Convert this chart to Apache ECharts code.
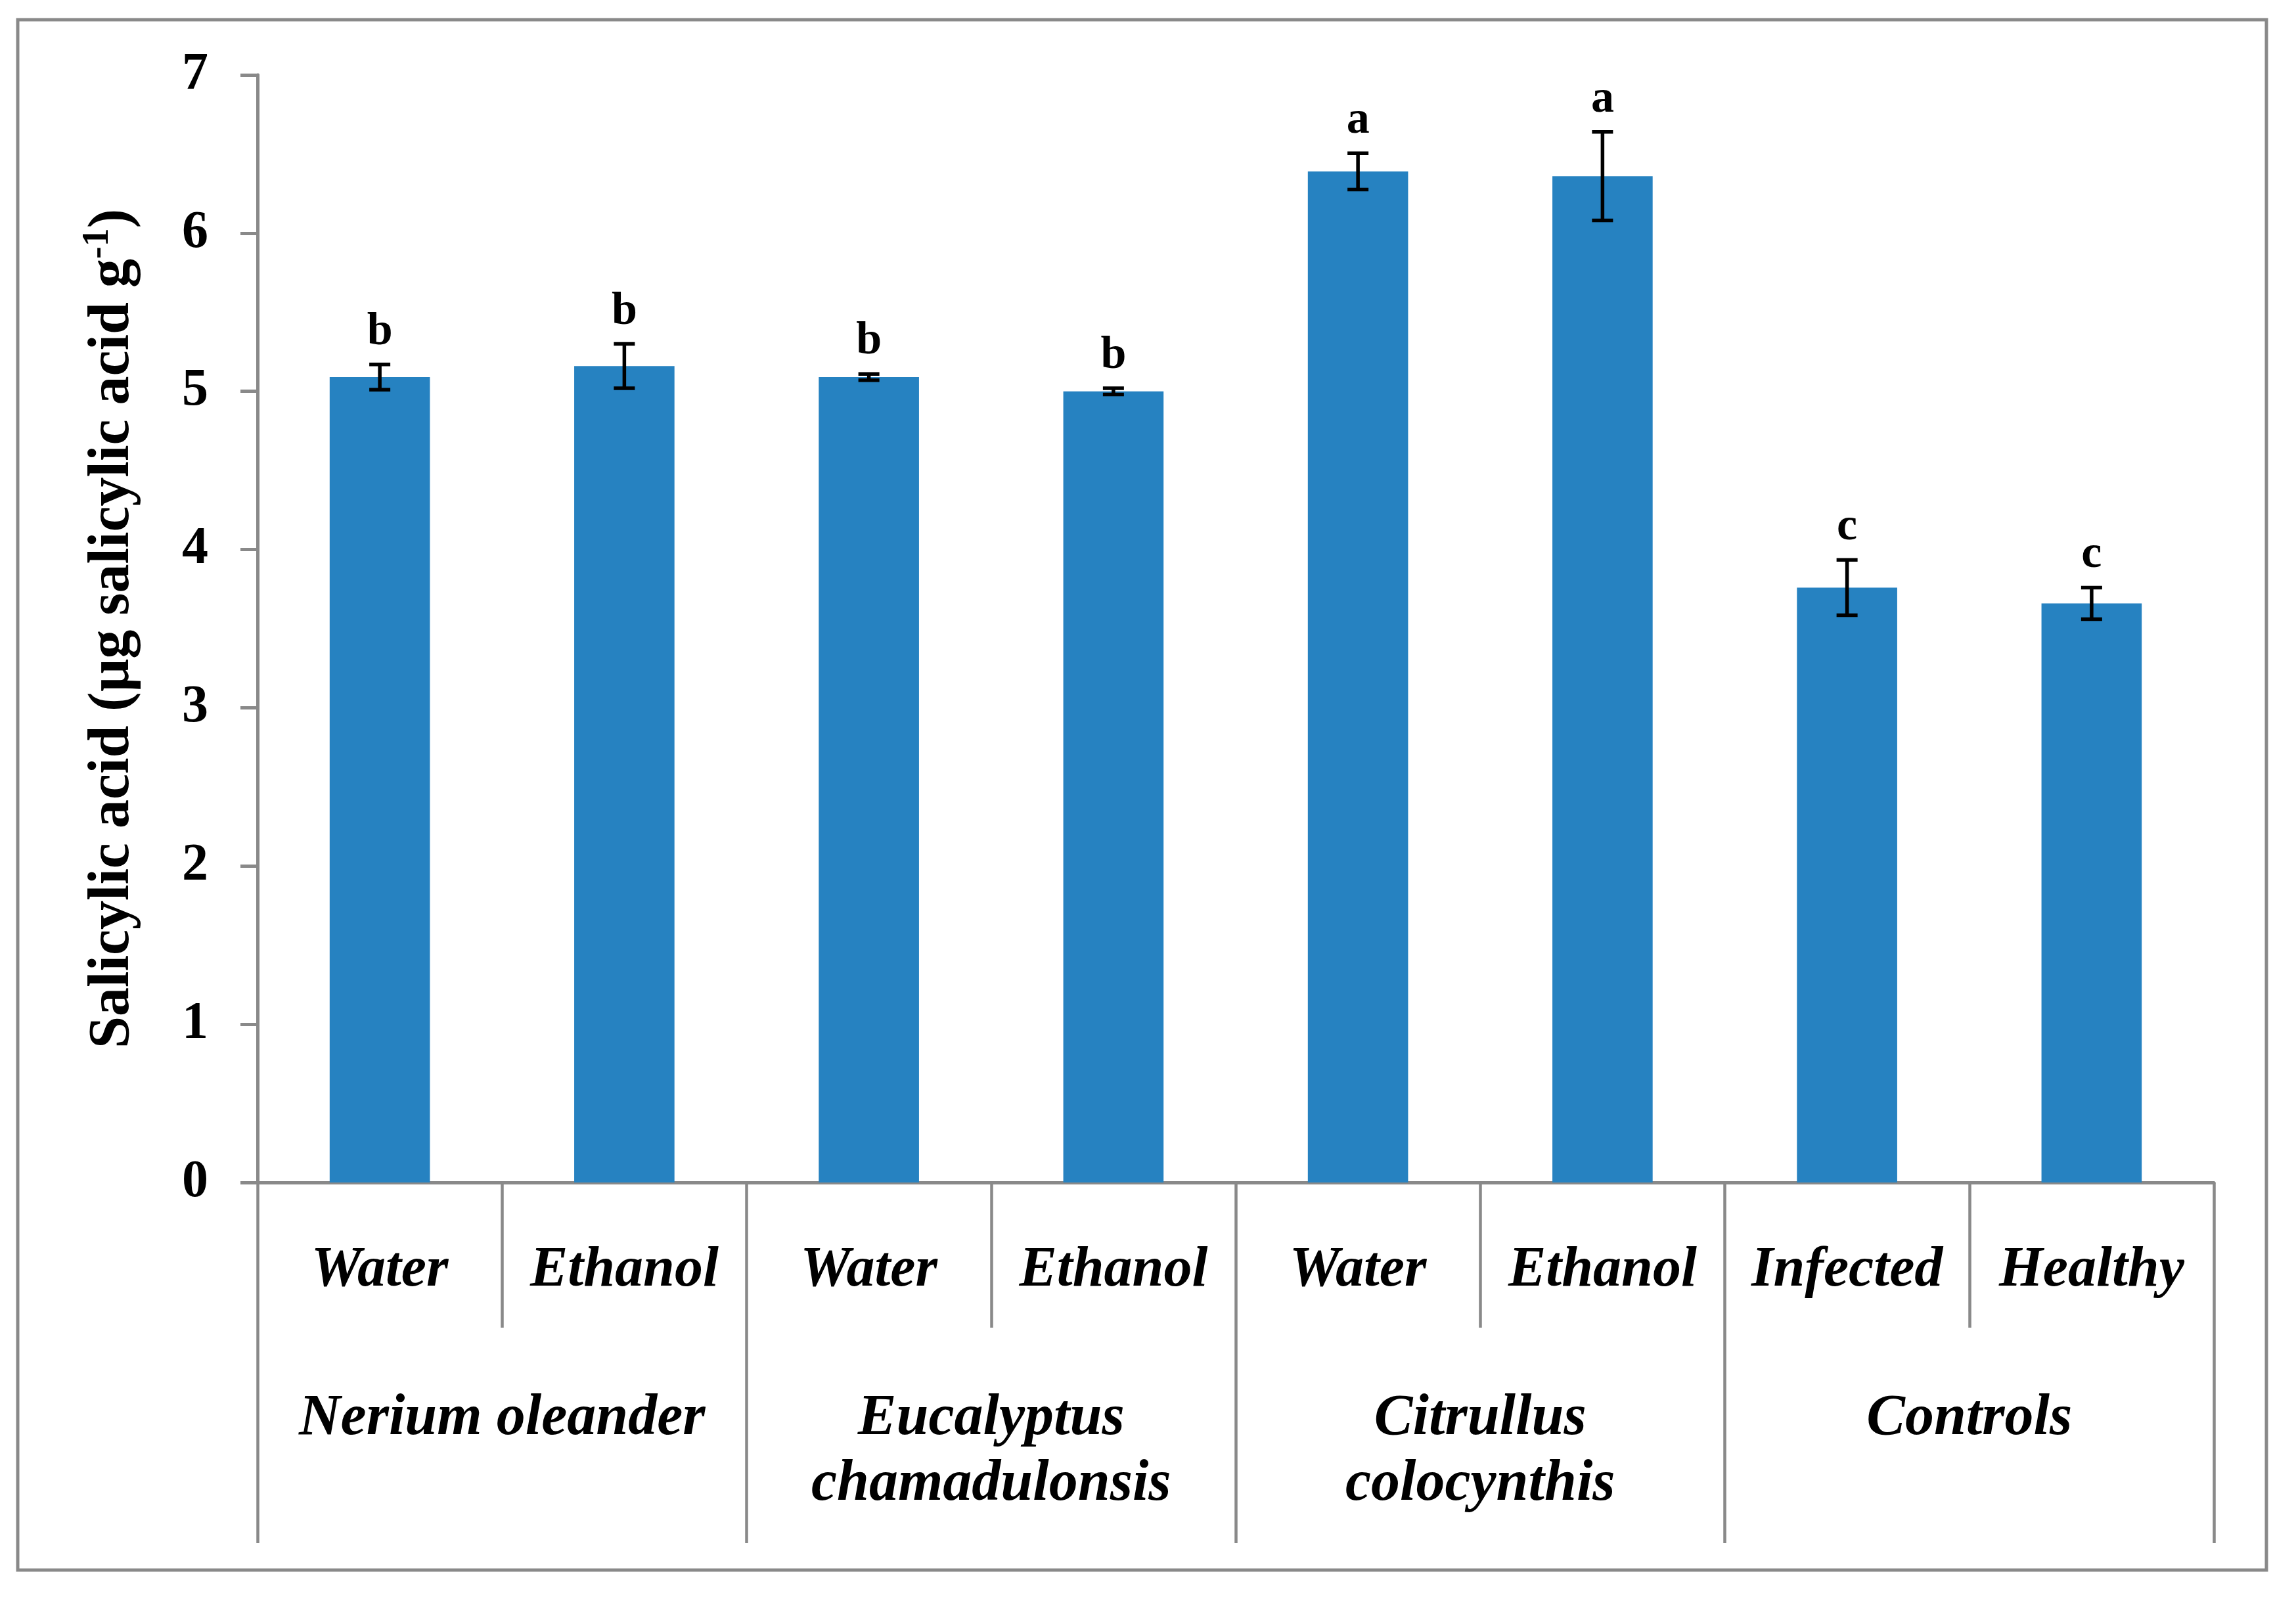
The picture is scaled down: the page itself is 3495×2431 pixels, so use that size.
<!DOCTYPE html>
<html>
<head>
<meta charset="utf-8">
<script src="https://cdn.jsdelivr.net/npm/echarts@6/dist/echarts.min.js"></script>
<style>
html,body{margin:0;padding:0;background:#fff;}
#chart{width:3495px;height:2431px;}
</style>
</head>
<body>
<div id="chart"></div>
<script>
const categories = ['Water', 'Ethanol', 'Water', 'Ethanol', 'Water', 'Ethanol', 'Infected', 'Healthy'];
const groups = ['Nerium oleander', 'Eucalyptus\nchamadulonsis', 'Citrullus\ncolocynthis', 'Controls'];
const values = [5.09, 5.16, 5.09, 5.00, 6.39, 6.36, 3.76, 3.66];
const errors = [0.08, 0.14, 0.02, 0.02, 0.115, 0.28, 0.175, 0.10];
const letters = ['b', 'b', 'b', 'b', 'a', 'a', 'c', 'c'];
const yMin = 0, yMax = 7, yStep = 1;

const FONT = "'Liberation Serif', 'Times New Roman', serif";
const GRAY = '#898989';
const BAR = '#2682c1';

const chart = echarts.init(document.getElementById('chart'));
const errData = values.map((v, i) => [i, v, errors[i]]);

chart.setOption({
  backgroundColor: '#ffffff',
  animation: false,
  graphic: [{
    type: 'rect',
    shape: { x: 27, y: 30, width: 3423, height: 2360 },
    style: { fill: 'none', stroke: GRAY, lineWidth: 5 },
    z: 0
  }],
  grid: { left: 392, right: 125, top: 114, bottom: 631, containLabel: false },
  xAxis: [{
    type: 'category',
    position: 'bottom',
    data: categories,
    axisLine: { show: true, lineStyle: { color: GRAY, width: 5 } },
    axisTick: { show: true, interval: 0, length: 221, lineStyle: { color: GRAY, width: 4.5 } },
    axisLabel: {
      interval: 0, margin: 135, verticalAlign: 'middle',
      fontFamily: FONT, fontSize: 86, fontWeight: 'bold', fontStyle: 'italic', color: '#000'
    }
  }, {
    type: 'category',
    position: 'bottom',
    data: groups,
    axisLine: { show: false },
    axisTick: { show: true, interval: 0, length: 549, lineStyle: { color: GRAY, width: 4.5 } },
    axisLabel: {
      interval: 0, margin: 310, verticalAlign: 'top', lineHeight: 100,
      fontFamily: FONT, fontSize: 88, fontWeight: 'bold', fontStyle: 'italic', color: '#000'
    }
  }],
  yAxis: {
    type: 'value',
    min: yMin, max: yMax, interval: yStep,
    splitLine: { show: false },
    axisLine: { show: true, lineStyle: { color: GRAY, width: 5 } },
    axisTick: { show: true, length: 26, lineStyle: { color: GRAY, width: 5 } },
    axisLabel: { margin: 75, fontFamily: FONT, fontSize: 80, fontWeight: 'bold', color: '#000' },
    name: '{a|Salicylic acid (µg salicylic acid g}{s|-1}{a|)}',
    nameLocation: 'middle',
    nameGap: 170,
    nameRotate: 90,
    nameTextStyle: {
      rich: {
        a: { fontFamily: FONT, fontSize: 88, fontWeight: 'bold', color: '#000', lineHeight: 100 },
        s: { fontFamily: FONT, fontSize: 56, fontWeight: 'bold', color: '#000', lineHeight: 56, verticalAlign: 'top' }
      }
    }
  },
  series: [{
    type: 'bar',
    data: values,
    xAxisIndex: 0,
    barCategoryGap: '59%',
    itemStyle: { color: BAR },
    z: 2
  }, {
    type: 'custom',
    xAxisIndex: 0,
    data: errData,
    encode: { x: 0, y: 1 },
    z: 5,
    renderItem: function (params, api) {
      const i = api.value(0);
      const v = api.value(1);
      const e = api.value(2);
      const top = api.coord([i, v + e]);
      const bot = api.coord([i, v - e]);
      const hw = 16;
      const ls = { stroke: '#000', lineWidth: 5.5 };
      return {
        type: 'group',
        children: [
          { type: 'line', shape: { x1: top[0], y1: top[1], x2: bot[0], y2: bot[1] }, style: ls },
          { type: 'line', shape: { x1: top[0] - hw, y1: top[1], x2: top[0] + hw, y2: top[1] }, style: ls },
          { type: 'line', shape: { x1: bot[0] - hw, y1: bot[1], x2: bot[0] + hw, y2: bot[1] }, style: ls },
          { type: 'text', style: {
              text: letters[params.dataIndex], x: top[0], y: top[1] - 14,
              align: 'center', verticalAlign: 'bottom',
              fontFamily: FONT, fontSize: 70, fontWeight: 'bold', fill: '#000'
          } }
        ]
      };
    }
  }]
});
</script>
</body>
</html>
